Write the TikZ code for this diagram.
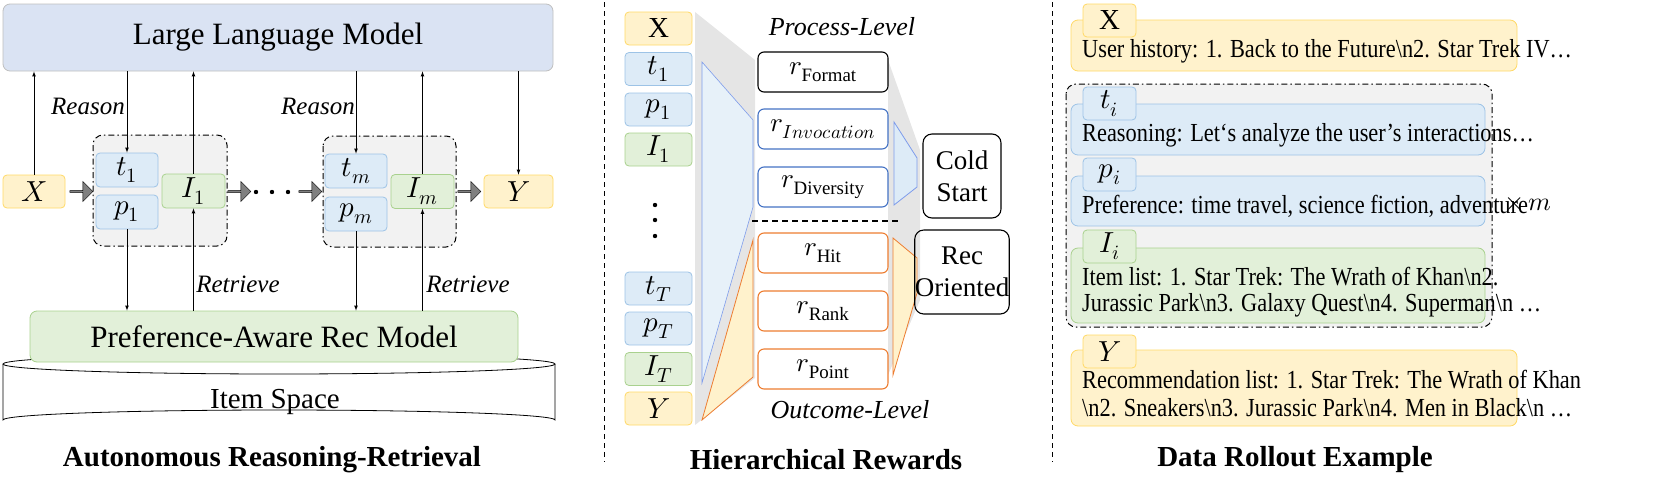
\documentclass[tikz,border=0pt]{standalone}
\usepackage{unicode-math}
\setmainfont{Liberation Serif}
\usetikzlibrary{shapes.arrows}
\definecolor{bF}{HTML}{DDEBF7}\definecolor{bD}{HTML}{9DC3E6}
\definecolor{gF}{HTML}{E2F0D9}\definecolor{gD}{HTML}{A9D18E}
\definecolor{yF}{HTML}{FFF2CC}\definecolor{yD}{HTML}{FFD966}
\definecolor{lF}{HTML}{DAE3F3}\definecolor{grp}{HTML}{F2F2F2}
\definecolor{oR}{HTML}{ED7D31}\definecolor{bL}{HTML}{4472C4}
\begin{document}
\begin{tikzpicture}[x=1pt,y=-1pt,>=latex,
 bx/.style={draw,rounded corners=4pt,inner sep=0pt,line width=0.8pt,font=\fontsize{29}{31}\selectfont},
 blu/.style={bx,fill=bF,draw=bD},
 grn/.style={bx,fill=gF,draw=gD},
 yel/.style={bx,fill=yF,draw=yD},
 grpb/.style={draw,fill=grp,dash pattern=on 6pt off 3pt on 1.5pt off 3pt,line width=1pt,rounded corners=10pt},
 barr/.style={single arrow,draw,fill=black!50,minimum height=23pt,minimum width=20pt,single arrow head extend=3pt,inner sep=0pt,line width=0.5pt},
 lab/.style={font=\fontsize{25}{27}\selectfont\itshape},
 captxt/.style={font=\fontsize{29}{31}\selectfont\bfseries},
 ar/.style={->,line width=0.7pt},
 rw/.style={draw,rounded corners=6pt,line width=1.1pt,minimum width=130pt,minimum height=40pt,inner sep=0pt,fill=white,font=\fontsize{27}{29}\selectfont},
 txt/.style={anchor=west,inner sep=0pt,font=\fontsize{26}{28}\selectfont},
 tab/.style={bx,minimum width=53pt,minimum height=33pt}]
\useasboundingbox (0,0) rectangle (1661,482);
% ---------- panel 1
\draw[line width=0.8pt] (3,364) -- (3,420) arc[start angle=180,end angle=360,x radius=276,y radius=10] -- (555,364);
\draw[line width=0.8pt,fill=white] (279,364) ellipse[x radius=276,y radius=10];
\node[font=\fontsize{29}{31}\selectfont] (is) at (275,402) {Item Space};
\node[bx,fill=lF,draw=black!25,minimum width=550pt,minimum height=67pt,font=\fontsize{31}{33}\selectfont,rounded corners=7pt] (llm) at (278,37.5) {Large Language Model};
\node[grn,minimum width=488pt,minimum height=51pt,font=\fontsize{31}{33}\selectfont,rounded corners=7pt] (rec) at (274,336.5) {Preference-Aware Rec Model};
\draw[grpb] (93,135) rectangle (227,246);
\draw[grpb] (323,136) rectangle (456,247);
\node[yel,minimum width=62pt,minimum height=33pt] (X) at (34,191.5) {$X$};
\node[blu,minimum width=62pt,minimum height=34pt] (t1) at (127,170) {$t_1$};
\node[blu,minimum width=62pt,minimum height=34pt] (p1) at (127,212) {$p_1$};
\node[grn,minimum width=63pt,minimum height=34pt] (I1) at (193.5,191) {$I_1$};
\node[blu,minimum width=62pt,minimum height=34pt] (tm) at (356,171) {$t_m$};
\node[blu,minimum width=62pt,minimum height=34pt] (pm) at (356,214) {$p_m$};
\node[grn,minimum width=63pt,minimum height=34pt] (Im) at (422.5,191.5) {$I_m$};
\node[yel,minimum width=69pt,minimum height=33pt] (Y) at (518.5,191.5) {$Y$};
\node[barr] (a1) at (81,191.5) {};
\node[barr] (a2) at (239,191.5) {};
\node[barr] (a3) at (310,191.5) {};
\node[barr] (a4) at (469,191.5) {};
\foreach \x in {256,272,288} \fill (\x,192) circle (2.2pt);
\draw[ar] (X.north) -- (X.north|-llm.south);
\draw[ar] (t1.north|-llm.south) -- (t1.north);
\draw[ar] (I1.north) -- (I1.north|-llm.south);
\draw[ar] (tm.north|-llm.south) -- (tm.north);
\draw[ar] (Im.north) -- (Im.north|-llm.south);
\draw[ar] (Y.north|-llm.south) -- (Y.north);
\draw[ar] (p1.south) -- (p1.south|-rec.north);
\draw[ar] (I1.south|-rec.north) -- (I1.south);
\draw[ar] (pm.south) -- (pm.south|-rec.north);
\draw[ar] (Im.south|-rec.north) -- (Im.south);
\node[lab] (r1) at (88,106) {Reason};
\node[lab] (r2) at (318,106) {Reason};
\node[lab] (q1) at (238,284) {Retrieve};
\node[lab] (q2) at (468,284) {Retrieve};
\node[captxt] (c1) at (272,460) {Autonomous Reasoning-Retrieval};
\draw[line width=1pt,dash pattern=on 5pt off 4pt] (604,2) -- (604,462);
\draw[line width=1pt,dash pattern=on 5pt off 4pt] (1052,2) -- (1052,462);
% ---------- panel 2
\fill[black!10] (695,12) -- (755,60) -- (755,378) -- (695,425) -- cycle;
\fill[black!10] (888,60) -- (920,150) -- (920,300) -- (888,375) -- cycle;
\filldraw[fill=bF!70,draw=bD!80!blue,line width=0.6pt] (702,62) -- (753,120) -- (753,207) -- (702,383) -- cycle;
\filldraw[fill=yF,draw=oR,line width=0.8pt] (702,420) -- (753,240) -- (753,377) -- cycle;
\filldraw[fill=bF,draw=bD!80!blue,line width=0.8pt] (894,122) -- (917,158) -- (917,187) -- (894,205) -- cycle;
\filldraw[fill=yF,draw=oR,line width=0.8pt] (893,238) -- (917,258) -- (917,293) -- (893,375) -- cycle;
\node[yel,minimum width=67pt,minimum height=33pt] (xx) at (658.5,28.5) {X};
\foreach \n/\t/\y/\c in {ta/t_1/69/blu, pa/p_1/109.5/blu, ia/I_1/149.5/grn, tb/t_T/288.5/blu, pb/p_T/328.5/blu, ib/I_T/369/grn, yy/Y/408.5/yel}
  \node[\c,minimum width=67pt,minimum height=33pt] (\n) at (658.5,\y) {$\t$};
\foreach \y in {205,220,236} \fill (655,\y) circle (2.2pt);
\node[rw] (rf) at (823,72) {$r_{\mathrm{Format}}$};
\node[rw,draw=bL] (ri) at (823,129) {$r_{Invocation}$};
\node[rw,draw=bL] (rd) at (823,187) {$r_{\mathrm{Diversity}}$};
\draw[line width=1.1pt,dash pattern=on 6pt off 4pt] (752,221) -- (900,221);
\node[rw,draw=oR] (rh) at (823,253) {$r_{\mathrm{Hit}}$};
\node[rw,draw=oR] (rr) at (823,311) {$r_{\mathrm{Rank}}$};
\node[rw,draw=oR] (rp) at (823,369) {$r_{\mathrm{Point}}$};
\node[font=\fontsize{26}{28}\selectfont\itshape] (pl) at (842,27) {Process-Level};
\node[font=\fontsize{26}{28}\selectfont\itshape] (ol) at (850,410) {Outcome-Level};
\node[draw,rounded corners=9pt,line width=1.1pt,minimum width=78pt,minimum height=84pt,align=center,font=\fontsize{27}{32}\selectfont,inner sep=0pt] (cs) at (962,176) {Cold\\Start};
\node[draw,rounded corners=9pt,line width=1.1pt,minimum width=78pt,minimum height=84pt,align=center,font=\fontsize{27}{32}\selectfont,inner sep=0pt] (ro) at (962,272) {Rec\\Oriented};
\node[captxt] (c2) at (826,460) {Hierarchical Rewards};
% ---------- panel 3
\draw[grpb] (1066,84) rectangle (1492,327);
\node[yel,minimum width=446pt,minimum height=51pt,rounded corners=7pt] (bx) at (1294,45.5) {};
\node[tab,fill=yF,draw=yD] (tx) at (1109.5,20.5) {X};
\node[txt] at (1082,51) {\scalebox{0.86}[1]{User history: 1. Back to the Future\textbackslash n2. Star Trek IV…}};
\node[blu,minimum width=414pt,minimum height=51pt,rounded corners=7pt] (bt) at (1278,129.5) {};
\node[tab,fill=bF,draw=bD] (tt) at (1109.5,103.5) {$t_i$};
\node[txt] at (1082,135) {\scalebox{0.86}[1]{Reasoning: Let‘s analyze the user’s interactions…}};
\node[blu,minimum width=414pt,minimum height=50pt,rounded corners=7pt] (bp) at (1278,201) {};
\node[tab,fill=bF,draw=bD] (tp) at (1109.5,174.5) {$p_i$};
\node[txt] at (1082,206) {\scalebox{0.86}[1]{Preference: time travel, science fiction, adventure}};
\node[grn,minimum width=414pt,minimum height=75pt,rounded corners=7pt] (bi) at (1278,285.5) {};
\node[tab,fill=gF,draw=gD] (ti) at (1109.5,246.5) {$I_i$};
\node[txt] at (1082,277) {\scalebox{0.86}[1]{Item list: 1. Star Trek: The Wrath of Khan\textbackslash n2.}};
\node[txt] at (1082,305) {\scalebox{0.86}[1]{Jurassic Park\textbackslash n3. Galaxy Quest\textbackslash n4. Superman\textbackslash n …}};
\node[font=\fontsize{26}{28}\selectfont] (xm) at (1528,204) {$\times\, m$};
\node[yel,minimum width=446pt,minimum height=76pt,rounded corners=7pt] (by) at (1294,388) {};
\node[tab,fill=yF,draw=yD] (ty) at (1109.5,351.5) {$Y$};
\node[txt] at (1082,380) {\scalebox{0.86}[1]{Recommendation list: 1. Star Trek: The Wrath of Khan}};
\node[txt] at (1082,408) {\scalebox{0.86}[1]{\textbackslash n2. Sneakers\textbackslash n3. Jurassic Park\textbackslash n4. Men in Black\textbackslash n …}};
\node[captxt] (c3) at (1295,460) {Data Rollout Example};
\end{tikzpicture}
\end{document}
